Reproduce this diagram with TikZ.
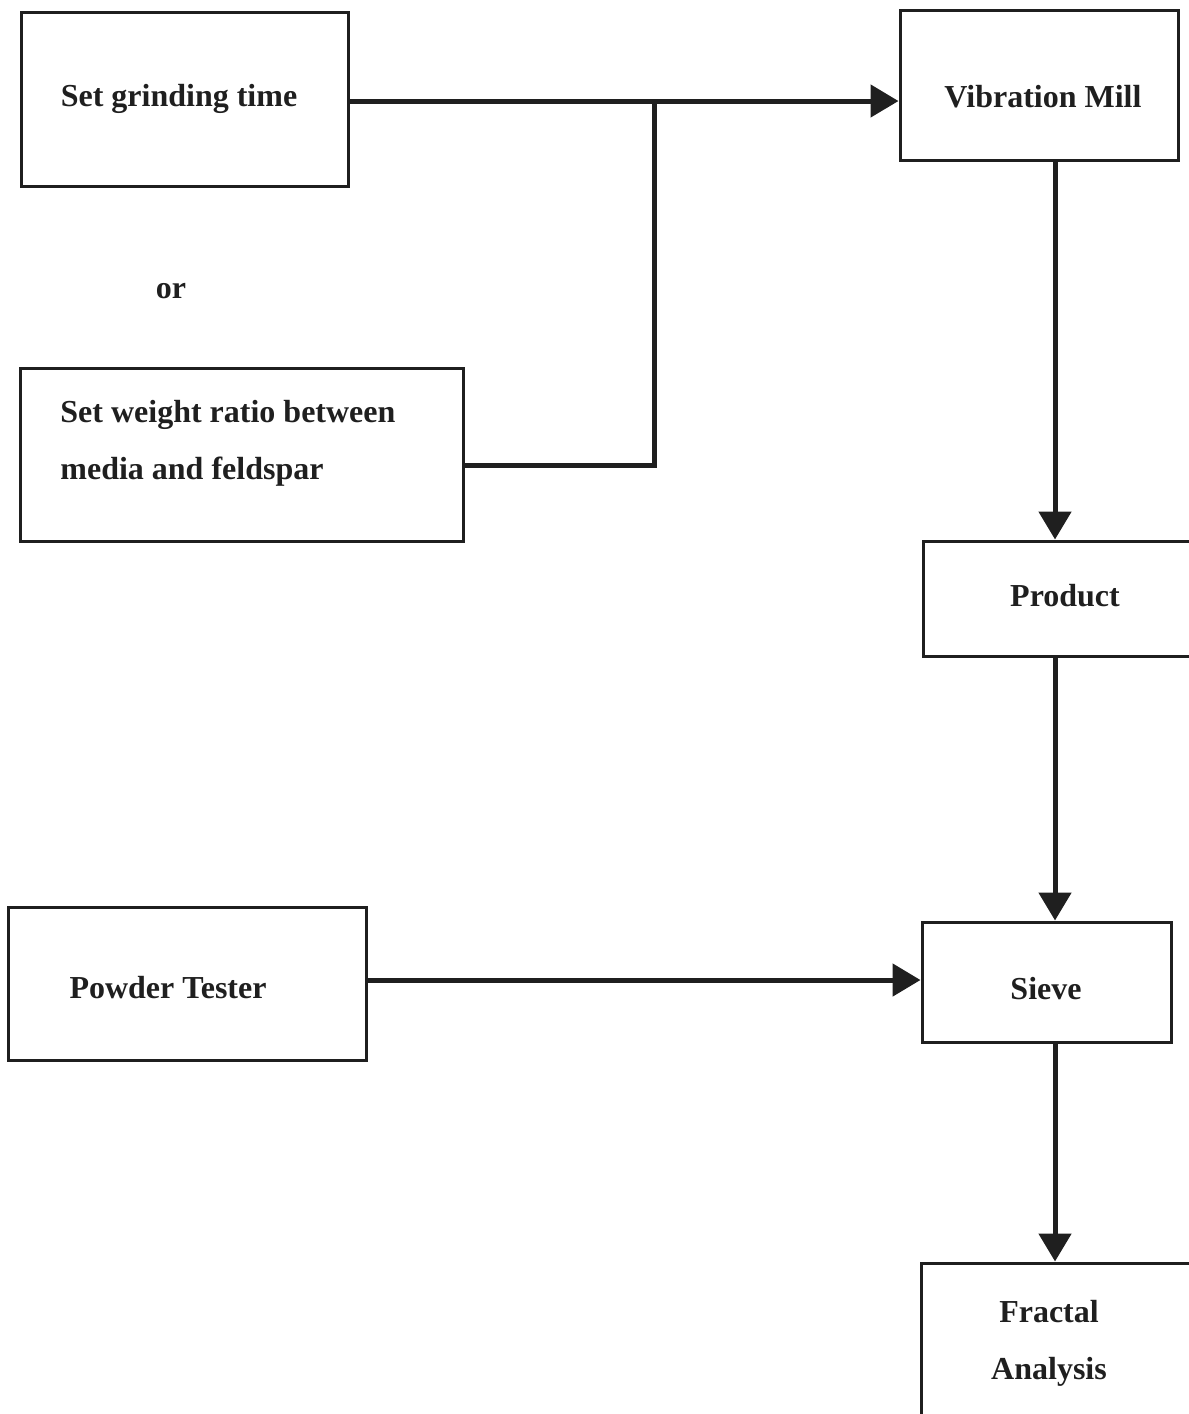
\documentclass[tikz,border=0pt]{standalone}
\usepackage{fontspec}
\setmainfont{Liberation Serif}
\usetikzlibrary{arrows.meta}
\begin{document}
\begin{tikzpicture}[x=0.5pt,y=-0.5pt,
  box/.style={draw=black!88,line width=1.5pt,rectangle,inner sep=0pt},
  txt/.style={font=\fontsize{16}{28.5}\selectfont\bfseries,text=black!88,inner sep=0pt},
  ln/.style={draw=black!88,line width=2.5pt},
  arr/.style={ln,-{Triangle[length=14pt,width=16pt]}}]
\useasboundingbox (0,0) rectangle (1189,1414);
% boxes
\node[box,minimum width=163.5pt,minimum height=87pt] (grind) at (184.5,99) {};
\node[box,minimum width=139pt,minimum height=75pt] (mill) at (1039,85) {};
\node[box,minimum width=221.5pt,minimum height=86.5pt] (wratio) at (241.5,454.5) {};
\node[box,minimum width=140pt,minimum height=57.5pt] (product) at (1063,598.5) {};
\node[box,minimum width=179pt,minimum height=76.5pt] (tester) at (187,983.5) {};
\node[box,minimum width=124.5pt,minimum height=60pt] (sieve) at (1046.5,982) {};
\node[box,minimum width=140pt,minimum height=80pt] (fractal) at (1061,1343) {};
% texts
\node[txt] (tgrind) at (179,99) {Set grinding time};
\node[txt] (tmill) at (1043,97) {Vibration Mill};
\node[txt] (tor) at (171,291) {or};
\node[txt,anchor=west,align=left] (twratio) at (60,443) {Set weight ratio between\\media and feldspar};
\node[txt] (tproduct) at (1065,596) {Product};
\node[txt] (ttester) at (168,988) {Powder Tester};
\node[txt] (tsieve) at (1046,989) {Sieve};
\node[txt,align=center] (tfractal) at (1049,1343) {Fractal\\Analysis};
% connectors
\coordinate (j) at (654,101);
\coordinate (k) at (654,465);
\coordinate (vx) at (1055,0);
\coordinate (hy) at (0,980);
\draw[arr] (grind.east |- j) -- (mill.west |- j);
\draw[ln] (j) -- (k) -- (wratio.east |- k);
\draw[arr] (mill.south -| vx) -- (product.north -| vx);
\draw[arr] (product.south -| vx) -- (sieve.north -| vx);
\draw[arr] (tester.east |- hy) -- (sieve.west |- hy);
\draw[arr] (sieve.south -| vx) -- (fractal.north -| vx);
\end{tikzpicture}
\end{document}
